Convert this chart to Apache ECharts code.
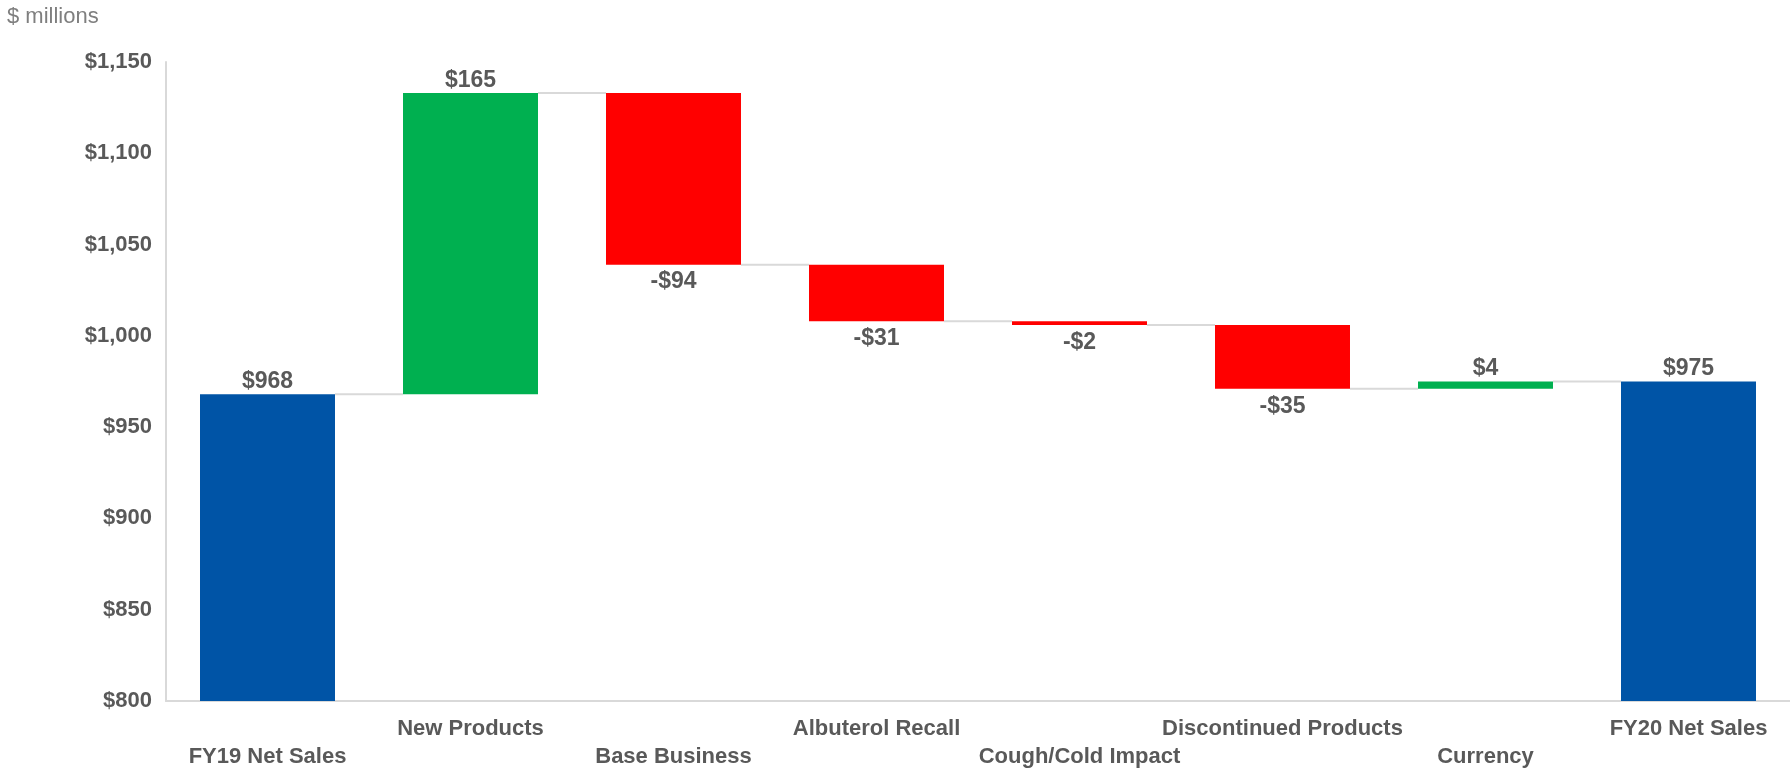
<!DOCTYPE html>
<html>
<head>
<meta charset="utf-8">
<script src="https://cdn.jsdelivr.net/npm/echarts@6/dist/echarts.min.js"></script>
<style>
html,body{margin:0;padding:0;background:#fff;}
#chart{width:1790px;height:771px;}
</style>
</head>
<body>
<div id="chart"></div>
<script>
// ---- data ----
const categories = ['FY19 Net Sales','New Products','Base Business','Albuterol Recall','Cough/Cold Impact','Discontinued Products','Currency','FY20 Net Sales'];
const changes = [968, 165, -94, -31, -2, -35, 4, 975];
const isTotal = [true, false, false, false, false, false, false, true];
const yTicks = { min: 800, max: 1150, step: 50 };
const unitLabel = '$ millions';

// ---- derived ----
const FONT = "'Liberation Sans', Arial, sans-serif";
const TEXT = '#595959';
const COLORS = { total: '#0054A6', up: '#00B050', down: '#FF0000' };

const baseVals = [], deltaVals = [], levels = [];
let running = 0;
changes.forEach((v, i) => {
  if (isTotal[i]) {
    baseVals.push(0);
    deltaVals.push(v);
    running = v;
  } else {
    const start = running, end = running + v;
    baseVals.push(Math.min(start, end));
    deltaVals.push(Math.abs(v));
    running = end;
  }
  levels.push(running);
});

function money(v) {
  const s = '$' + Math.abs(v).toLocaleString('en-US');
  return v < 0 ? '-' + s : s;
}

const deltaData = deltaVals.map((d, i) => {
  const v = changes[i];
  const neg = !isTotal[i] && v < 0;
  const color = isTotal[i] ? COLORS.total : (v >= 0 ? COLORS.up : COLORS.down);
  return {
    value: d,
    itemStyle: { color: color },
    label: { position: neg ? 'bottom' : 'top', distance: neg ? 6 : 1 }
  };
});

const connectorData = levels.slice(0, levels.length - 1).map((l, i) => [i, l]);

const chart = echarts.init(document.getElementById('chart'), null, { renderer: 'canvas' });
const BAR_RATIO = 0.665;

chart.setOption({
  animation: false,
  backgroundColor: '#fff',
  title: {
    text: unitLabel,
    left: 2, top: 1,
    textStyle: { fontFamily: FONT, fontSize: 22, fontWeight: 'normal', color: '#7f7f7f' }
  },
  grid: { left: 166, right: 0, top: 62, bottom: 69, containLabel: false },
  xAxis: {
    type: 'category',
    data: categories,
    axisLine: { show: true, lineStyle: { color: '#d9d9d9', width: 2 } },
    axisTick: { show: false },
    axisLabel: {
      interval: 0,
      margin: 14,
      fontFamily: FONT, fontSize: 22, fontWeight: 'bold', color: TEXT,
      lineHeight: 28,
      formatter: (val, idx) => (idx % 2 === 0 ? '\n' + val : val)
    }
  },
  yAxis: {
    type: 'value',
    min: yTicks.min, max: yTicks.max, interval: yTicks.step,
    axisLine: { show: true, lineStyle: { color: '#d9d9d9', width: 2 } },
    axisTick: { show: false },
    splitLine: { show: false },
    axisLabel: {
      margin: 14,
      fontFamily: FONT, fontSize: 22, fontWeight: 'bold', color: TEXT,
      formatter: v => money(v)
    }
  },
  series: [
    {
      type: 'bar', stack: 'wf', barWidth: (BAR_RATIO * 100) + '%',
      data: baseVals,
      itemStyle: { color: 'rgba(0,0,0,0)' },
      emphasis: { disabled: true },
      silent: true
    },
    {
      type: 'bar', stack: 'wf', barWidth: (BAR_RATIO * 100) + '%',
      data: deltaData,
      label: {
        show: true,
        fontFamily: FONT, fontSize: 23, fontWeight: 'bold', color: TEXT,
        formatter: p => money(changes[p.dataIndex])
      },
      z: 3
    },
    {
      type: 'custom',
      data: connectorData,
      z: 1,
      renderItem: (params, api) => {
        const i = api.value(0);
        const l = api.value(1);
        const p1 = api.coord([i, l]);
        const p2 = api.coord([i + 1, l]);
        const band = api.size([1, 0])[0];
        const half = band * BAR_RATIO / 2;
        return {
          type: 'line',
          shape: { x1: p1[0] + half, y1: p1[1], x2: p2[0] - half, y2: p2[1] },
          style: { stroke: '#d9d9d9', lineWidth: 2 }
        };
      }
    }
  ]
});
</script>
</body>
</html>
